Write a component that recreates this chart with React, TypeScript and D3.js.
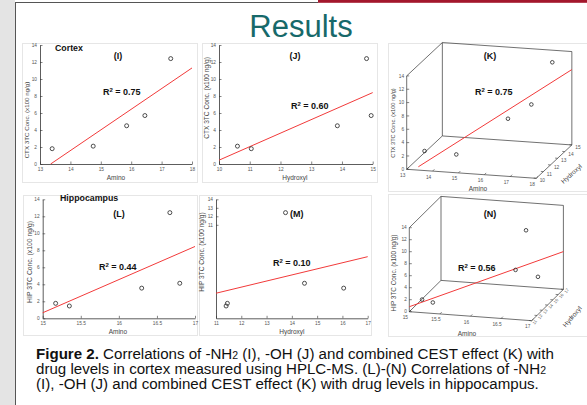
import React, { useEffect, useRef } from "react";
import * as d3 from "d3";

// cortex: CEST effect (amino / hydroxyl) vs 3TC concentration (x100 ng/g)
const cortexAmino = [13.4, 14.75, 15.85, 16.45, 17.3];
const cortexHydroxyl = [11.05, 10.6, 13.85, 14.95, 14.8];
const cortexConc = [1.8, 2.1, 4.5, 5.7, 12.4];

// hippocampus
const hipAmino = [15.17, 15.35, 16.3, 16.67, 16.8];
const hipHydroxyl = [11.45, 11.4, 16.05, 13.75, 14.5];
const hipConc = [1.76, 1.45, 3.55, 12.43, 4.12];

// regression line end points [x, conc] or [amino, hydroxyl, conc]
const fitI = [[13.35, 0], [18, 11.3]];
const fitJ = [[10, 0.45], [15, 8.4]];
const fitL = [[15, 0.65], [17, 8.45]];
const fitM = [[11, 2.95], [17, 7.25]];
const fitK = [[13.45, 10, 0.5], [18, 15, 11.3]];
const fitN = [[15, 11, 0.83], [17, 17, 6.3]];

const r2Labels = ["0.75", "0.60", "0.75", "0.44", "0.10", "0.56"];

const concTicks = [0, 2, 4, 6, 8, 10, 12, 14];
const concTicksM = [11, 12, 13, 14];
const aminoTicksCtx = [13, 14, 15, 16, 17, 18];
const hydroxylTicksCtx = [10, 11, 12, 13, 14, 15];
const aminoTicksHip = [15, 15.5, 16, 16.5, 17];
const hydroxylTicksHip = [11, 12, 13, 14, 15, 16, 17];

const FONT = "'Liberation Sans', Arial, Helvetica, sans-serif";
const RED = "#f23a3a";

function addR2(g, x, y, val) {
  const t = g.append("text").attr("x", x).attr("y", y)
    .attr("font-family", FONT).attr("font-weight", "bold").attr("font-size", 9).attr("fill", "#111");
  t.append("tspan").text("R");
  t.append("tspan").attr("font-size", 6).attr("dy", -3.5).text("2");
  t.append("tspan").attr("dy", 3.5).text(" = " + val);
}

function panel2D(svg, o) {
  const g = svg.append("g");
  const x = d3.scaleLinear().domain(o.xDomain).range(o.xRange);
  const y = d3.scaleLinear().domain([0, 14]).range(o.yRange);

  const xa = g.append("g").attr("transform", `translate(0,${o.yRange[0]})`)
    .call(d3.axisBottom(x).tickValues(o.xTicks).tickFormat(d => String(d))
      .tickSizeInner(-2.5).tickSizeOuter(0).tickPadding(3.5));
  const ya = g.append("g").attr("transform", `translate(${o.xRange[0]},0)`)
    .call(d3.axisLeft(y).tickValues(o.yTicks).tickFormat(d => String(d))
      .tickSizeInner(-2.5).tickSizeOuter(0).tickPadding(3));
  [xa, ya].forEach(a => {
    a.selectAll("path").attr("stroke", "#333").attr("stroke-width", 0.8);
    a.selectAll("line").attr("stroke", "#333").attr("stroke-width", 0.6);
    a.selectAll("text").attr("font-size", 4.8).attr("font-family", FONT).attr("fill", "#555");
  });

  const line = d3.line().x(d => x(d[0])).y(d => y(d[1]));
  g.append("path").attr("d", line(o.fit)).attr("stroke", RED).attr("stroke-width", 1).attr("fill", "none");

  g.selectAll("circle.pt").data(o.xs).enter().append("circle")
    .attr("cx", d => x(d)).attr("cy", (d, i) => y(o.ys[i])).attr("r", 2)
    .attr("fill", "none").attr("stroke", "#222").attr("stroke-width", 0.8);

  g.append("text").attr("x", (o.xRange[0] + o.xRange[1]) / 2 + o.xLabelDx).attr("y", o.yRange[0] + 16)
    .attr("text-anchor", "middle").attr("font-family", FONT).attr("font-size", 6.5).attr("fill", "#444")
    .text(o.xLabel);
  g.append("text").attr("transform", `translate(${o.yLabelX},${o.yLabelY}) rotate(-90)`)
    .attr("text-anchor", "middle").attr("font-family", FONT).attr("font-size", o.yLabelSize).attr("fill", "#444")
    .text(o.yLabel);
  g.append("text").attr("x", o.tagX).attr("y", o.tagY).attr("text-anchor", o.tagAnchor || "middle")
    .attr("font-family", FONT).attr("font-weight", "bold").attr("font-size", 9).attr("fill", "#111")
    .text(o.tag);
  addR2(g, o.r2X, o.r2Y, o.r2);
}

function panel3D(svg, o) {
  const g = svg.append("g");
  const [a0, a1] = o.aDomain;
  const [h0, h1] = o.hDomain;
  const zMax = 14;
  const aX = d3.scaleLinear().domain(o.aDomain).range([0, o.aSpan[0]]);
  const aY = d3.scaleLinear().domain(o.aDomain).range([0, o.aSpan[1]]);
  const hX = d3.scaleLinear().domain(o.hDomain).range([0, o.hSpan[0]]);
  const hY = d3.scaleLinear().domain(o.hDomain).range([0, o.hSpan[1]]);
  const zY = d3.scaleLinear().domain([0, zMax]).range([0, -o.zSpan]);
  const proj = (a, h, z) => [o.origin[0] + aX(a) + hX(h), o.origin[1] + aY(a) + hY(h) + zY(z)];

  const edges = [
    [[a0, h0, 0], [a0, h0, zMax]],
    [[a0, h0, zMax], [a0, h1, zMax]],
    [[a0, h1, zMax], [a1, h1, zMax]],
    [[a0, h1, 0], [a0, h1, zMax]],
    [[a1, h1, 0], [a1, h1, zMax]],
    [[a0, h1, 0], [a1, h1, 0]],
    [[a0, h0, 0], [a0, h1, 0]],
    [[a0, h0, 0], [a1, h0, 0]],
    [[a1, h0, 0], [a1, h1, 0]],
  ];
  const line = d3.line();
  edges.forEach(e => {
    g.append("path").attr("d", line(e.map(p => proj(p[0], p[1], p[2]))))
      .attr("stroke", "#333").attr("stroke-width", 0.7).attr("fill", "none");
  });

  const tickStyle = s => s.attr("stroke", "#333").attr("stroke-width", 0.6);
  const lab = (x, y, txt, anchor) => g.append("text").attr("x", x).attr("y", y).attr("text-anchor", anchor)
    .attr("font-family", FONT).attr("font-size", 4.8).attr("fill", "#555").text(txt);

  concTicks.forEach(t => {
    const [px, py] = proj(a0, h0, t);
    tickStyle(g.append("line").attr("x1", px).attr("y1", py).attr("x2", px + 2.5).attr("y2", py));
    lab(px - 2.5, py + 1.7, String(t), "end");
  });
  o.aTicks.forEach(t => {
    const [px, py] = proj(t, h0, 0);
    tickStyle(g.append("line").attr("x1", px).attr("y1", py).attr("x2", px + 1.8).attr("y2", py - 1.8));
    lab(px - 4, py + 7.5, String(t), "middle");
  });
  o.hTicks.forEach(t => {
    const [px, py] = proj(a1, t, 0);
    tickStyle(g.append("line").attr("x1", px).attr("y1", py).attr("x2", px - 2.5).attr("y2", py - 0.2));
    if (o.hTickRotate) {
      g.append("text").attr("transform", `translate(${px + 3},${py + 4}) rotate(${o.hTickRotate})`)
        .attr("font-family", FONT).attr("font-size", 4.2).attr("fill", "#555").text(String(t));
    } else {
      lab(px + 3.5, py + 4, String(t), "start");
    }
  });

  g.append("path").attr("d", line(o.fit.map(p => proj(p[0], p[1], p[2]))))
    .attr("stroke", RED).attr("stroke-width", 1).attr("fill", "none");

  g.selectAll("circle.pt").data(o.as).enter().append("circle")
    .attr("cx", (d, i) => proj(d, o.hs[i], o.zs[i])[0])
    .attr("cy", (d, i) => proj(d, o.hs[i], o.zs[i])[1])
    .attr("r", 1.8).attr("fill", "none").attr("stroke", "#222").attr("stroke-width", 0.8);

  g.append("text").attr("x", o.aLabel[0]).attr("y", o.aLabel[1]).attr("text-anchor", "middle")
    .attr("font-family", FONT).attr("font-size", 6.5).attr("fill", "#444").text("Amino");
  g.append("text").attr("transform", `translate(${o.hLabel[0]},${o.hLabel[1]}) rotate(${o.hLabel[2]})`)
    .attr("text-anchor", "middle").attr("font-family", FONT).attr("font-size", 6.5).attr("fill", "#444").text("Hydroxyl");
  g.append("text").attr("transform", `translate(${o.yLabelX},${o.yLabelY}) rotate(-90)`)
    .attr("text-anchor", "middle").attr("font-family", FONT).attr("font-size", o.yLabelSize).attr("fill", "#444")
    .text(o.yLabel);
  g.append("text").attr("x", o.tagX).attr("y", o.tagY).attr("text-anchor", "middle")
    .attr("font-family", FONT).attr("font-weight", "bold").attr("font-size", 9).attr("fill", "#111")
    .text(o.tag);
  addR2(g, o.r2X, o.r2Y, o.r2);
}

function App() {
  const ref = useRef(null);

  useEffect(() => {
    const svg = d3.select(ref.current);
    svg.selectAll("*").remove();

    // page frame
    svg.append("rect").attr("x", 0).attr("y", 0).attr("width", 587).attr("height", 405).attr("fill", "#fff");
    svg.append("rect").attr("x", 0).attr("y", 0).attr("width", 15).attr("height", 405).attr("fill", "#e4e4e4");
    svg.append("rect").attr("x", 318).attr("y", 0).attr("width", 269).attr("height", 2.8).attr("fill", "#a3172c");
    svg.append("line").attr("x1", 15.5).attr("y1", 2.5).attr("x2", 15.5).attr("y2", 405).attr("stroke", "#555").attr("stroke-width", 1);
    svg.append("line").attr("x1", 15).attr("y1", 2.5).attr("x2", 318).attr("y2", 2.5).attr("stroke", "#555").attr("stroke-width", 1);

    svg.append("text").attr("x", 301).attr("y", 36.5).attr("text-anchor", "middle")
      .attr("font-family", FONT).attr("font-size", 31).attr("fill", "#17696a").text("Results");

    // faint image borders
    const boxes = [[22, 43, 175, 139], [202, 43, 175, 139], [388, 43, 200, 148],
      [23, 195, 174, 140], [199, 195, 172, 140], [388, 194, 200, 142]];
    boxes.forEach(b => svg.append("rect").attr("x", b[0] + 0.5).attr("y", b[1] + 0.5).attr("width", b[2]).attr("height", b[3])
      .attr("fill", "none").attr("stroke", "#e6e6e6").attr("stroke-width", 1));

    const ctxLabel = "CTX 3TC Conc. (x100 ng/g)";
    const hipLabel = "HIP 3TC Conc. (x100 ng/g)";

    panel2D(svg, {
      xDomain: [13, 18], xRange: [40, 192], yRange: [164, 45], xTicks: aminoTicksCtx, yTicks: concTicks,
      xs: cortexAmino, ys: cortexConc, fit: fitI, xLabel: "Amino", xLabelDx: 0,
      yLabel: ctxLabel, yLabelX: 29, yLabelY: 120, yLabelSize: 6.2,
      tag: "(I)", tagX: 118, tagY: 58.5, r2: r2Labels[0], r2X: 103, r2Y: 95,
    });
    svg.append("text").attr("x", 55).attr("y", 50.5).attr("font-family", FONT).attr("font-weight", "bold")
      .attr("font-size", 8.8).attr("fill", "#111").text("Cortex");

    panel2D(svg, {
      xDomain: [10, 15], xRange: [219, 372.7], yRange: [164, 45], xTicks: hydroxylTicksCtx, yTicks: concTicks,
      xs: cortexHydroxyl, ys: cortexConc, fit: fitJ, xLabel: "Hydroxyl", xLabelDx: -1,
      yLabel: ctxLabel, yLabelX: 208.5, yLabelY: 98, yLabelSize: 6.6,
      tag: "(J)", tagX: 295, tagY: 58.5, r2: r2Labels[1], r2X: 291, r2Y: 109,
    });

    panel3D(svg, {
      aDomain: [13, 18], hDomain: [10, 15], origin: [406.7, 169.3],
      aSpan: [129.5, 9], hSpan: [35.65, -33.35], zSpan: 93.4,
      aTicks: aminoTicksCtx, hTicks: hydroxylTicksCtx,
      as: cortexAmino, hs: cortexHydroxyl, zs: cortexConc, fit: fitK,
      aLabel: [478, 191], hLabel: [573, 175.5, -42],
      yLabel: ctxLabel, yLabelX: 395, yLabelY: 123, yLabelSize: 5.6,
      tag: "(K)", tagX: 490, tagY: 58.5, r2: r2Labels[2], r2X: 475, r2Y: 95,
    });

    panel2D(svg, {
      xDomain: [15, 17], xRange: [42.7, 195], yRange: [318.3, 199.3], xTicks: aminoTicksHip, yTicks: concTicks,
      xs: hipAmino, ys: hipConc, fit: fitL, xLabel: "Amino", xLabelDx: -1,
      yLabel: hipLabel, yLabelX: 32, yLabelY: 262, yLabelSize: 6.8,
      tag: "(L)", tagX: 119, tagY: 216.5, r2: r2Labels[3], r2X: 99, r2Y: 270,
    });
    svg.append("text").attr("x", 60).attr("y", 200.5).attr("font-family", FONT).attr("font-weight", "bold")
      .attr("font-size", 8.8).attr("fill", "#111").text("Hippocampus");

    panel2D(svg, {
      xDomain: [11, 17], xRange: [216, 367.7], yRange: [318.3, 199.3], xTicks: hydroxylTicksHip, yTicks: concTicksM,
      xs: hipHydroxyl, ys: hipConc, fit: fitM, xLabel: "Hydroxyl", xLabelDx: 0,
      yLabel: hipLabel, yLabelX: 203.5, yLabelY: 252, yLabelSize: 6.6,
      tag: "(M)", tagX: 290, tagY: 216.5, tagAnchor: "start", r2: r2Labels[4], r2X: 273, r2Y: 266,
    });

    panel3D(svg, {
      aDomain: [15, 17], hDomain: [11, 17], origin: [409.3, 311.7],
      aSpan: [122.4, 9], hSpan: [31.7, -31.3], zSpan: 84,
      aTicks: aminoTicksHip, hTicks: hydroxylTicksHip, hTickRotate: -55,
      as: hipAmino, hs: hipHydroxyl, zs: hipConc, fit: fitN,
      aLabel: [467, 336], hLabel: [574, 318, -50],
      yLabel: hipLabel, yLabelX: 395.5, yLabelY: 273, yLabelSize: 6.4,
      tag: "(N)", tagX: 490, tagY: 216.5, r2: r2Labels[5], r2X: 458, r2Y: 271,
    });

    // caption
    const cap = svg.append("g").attr("font-family", FONT).attr("font-size", 15.1).attr("fill", "#111");
    const l1 = cap.append("text").attr("x", 36).attr("y", 358.5);
    l1.append("tspan").attr("font-weight", "bold").text("Figure 2.");
    l1.append("tspan").text(" Correlations of -NH");
    l1.append("tspan").attr("font-size", 10.5).text("2");
    l1.append("tspan").text(" (I), -OH (J) and combined CEST effect (K) with");
    const l2 = cap.append("text").attr("x", 36).attr("y", 373.5);
    l2.append("tspan").text("drug levels in cortex measured using HPLC-MS. (L)-(N) Correlations of -NH");
    l2.append("tspan").attr("font-size", 10.5).text("2");
    cap.append("text").attr("x", 36).attr("y", 388.5)
      .text("(I), -OH (J) and combined CEST effect (K) with drug levels in hippocampus.");
  }, []);

  return (
    <svg ref={ref} width={587} height={405}
      style={{ position: "absolute", left: 0, top: 0, display: "block" }} />
  );
}

export default App;
